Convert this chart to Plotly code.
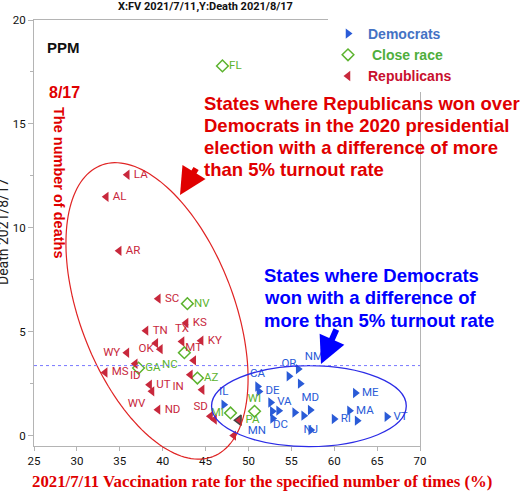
import numpy as np
import plotly.graph_objects as go

# ---- data ----
dem_labels = ["NM", "OR", "", "CA", "DE", "IL", "VA", "", "", "MN", "DC", "", "MD", "NJ", "RI", "ME", "MA", "", "VT"]
dem_vacc = [55.8, 54.72, 56.03, 51.06, 51.22, 47.12, 52.58, 52.78, 53.52, 52.82, 55.39, 56.44, 57.2, 57.26,
            59.98, 62.46, 61.78, 62.67, 66.14]
dem_death = [3.2, 2.86, 2.5, 2.36, 2.12, 1.49, 1.59, 1.17, 1.2, 0.82, 1.11, 0.96, 1.23, 0.27,
             0.8, 2.05, 1.2, 0.72, 0.91]

close_labels = ["FL", "NV", "NC", "GA", "AZ", "MI", "WI", "PA"]
close_vacc = [46.97, 42.88, 42.53, 37.19, 44.05, 47.91, 50.71, 48.88]
close_death = [17.79, 6.35, 3.99, 3.25, 2.77, 1.09, 1.17, 0.74]

rep_labels = ["LA", "AL", "AR", "SC", "KS", "TN", "TX", "KY", "", "OK", "WY", "MT", "ID", "MS",
              "IN", "UT", "WV", "", "ND", "", "SD", ""]
rep_vacc = [35.87, 33.42, 34.93, 39.49, 42.73, 38.06, 42.26, 44.48, 39.2, 39.73, 35.83, 43.62, 36.8, 33.3,
            43.23, 38.48, 38.76, 44.6, 39.46, 45.57, 46.04, 48.29]
rep_death = [12.55, 11.49, 8.89, 6.59, 5.42, 5.05, 4.53, 4.57, 4.45, 4.16, 3.99, 3.62, 3.46, 3.04,
             2.93, 2.45, 2.13, 2.21, 1.25, 0.93, 0.77, 0.0]

us_avg_death = 3.37

# ---- styling ----
BLUE = "#2a5bd7"
GREEN = "#5cb32e"
RED = "#c8283c"
SANS = "Liberation Sans, Arial, sans-serif"
NARROW = "Liberation Sans Narrow, Arial Narrow, Roboto, sans-serif"
SERIF = "Liberation Serif, Times New Roman, serif"

LABEL_POS = {
    "TX": "top center", "OK": "middle left", "WY": "middle left", "MT": "top center",
    "ID": "bottom center", "IN": "bottom left", "WV": "bottom left", "SD": "top left",
    "NC": "bottom left", "MI": "middle left", "WI": "top center",
    "OR": "top center", "NM": "top right", "CA": "top center", "IL": "top center",
    "MN": "bottom left", "DC": "bottom left", "MD": "top center", "NJ": "middle center",
}

W, H = 520, 496
L, R, T, B = 34, 100, 20, 50
X_RANGE = [25, 70]
Y_RANGE = [-0.5, 20]
PW, PH = W - L - R, H - T - B


def paper(px, py):
    """pixel position in the page -> paper coords"""
    return (px - L) / PW, (H - B - py) / PH


def data_to_paper(x, y):
    return ((np.asarray(x) - X_RANGE[0]) / (X_RANGE[1] - X_RANGE[0]),
            (np.asarray(y) - Y_RANGE[0]) / (Y_RANGE[1] - Y_RANGE[0]))


fig = go.Figure()

fig.add_trace(go.Scatter(
    x=dem_vacc, y=dem_death, mode="markers+text", name="<b><span style='color:#4472c4'>Democrats</span></b>",
    marker=dict(symbol="triangle-right", size=9, color=BLUE),
    text=dem_labels, textposition=[LABEL_POS.get(s, "middle right") for s in dem_labels],
    textfont=dict(family=NARROW, size=11.5, color=BLUE), cliponaxis=False,
))

close_symbols = ["diamond-open"] * (len(close_labels) - 1) + ["triangle-left"]
close_colors = [GREEN] * (len(close_labels) - 1) + [RED]
fig.add_trace(go.Scatter(
    x=close_vacc, y=close_death, mode="markers+text", name="<b><span style='color:#4fae3c'> Close race</span></b>",
    marker=dict(symbol=close_symbols, size=9, color=close_colors, line=dict(width=1.5)),
    text=close_labels, textposition=[LABEL_POS.get(s, "middle right") for s in close_labels],
    textfont=dict(family=NARROW, size=11.5, color=GREEN), cliponaxis=False,
))

fig.add_trace(go.Scatter(
    x=rep_vacc, y=rep_death, mode="markers+text", name="<b><span style='color:#c8102e'>Republicans</span></b>",
    marker=dict(symbol="triangle-left", size=9, color=RED),
    text=rep_labels, textposition=[LABEL_POS.get(s, "middle right") for s in rep_labels],
    textfont=dict(family=NARROW, size=11.5, color=RED), cliponaxis=False,
))

# ---- ellipses (drawn in paper space so they are not clipped) ----
sx, sy = PW / (X_RANGE[1] - X_RANGE[0]), PH / (Y_RANGE[1] - Y_RANGE[0])
t = np.linspace(0, 2 * np.pi, 160)
a, b, phi = 156, 77, np.radians(21)
cx, cy = 39.34, 6.0
dx = a * np.cos(t) * np.sin(phi) + b * np.sin(t) * np.cos(phi)
dy = a * np.cos(t) * np.cos(phi) - b * np.sin(t) * np.sin(phi)
ex, ey = data_to_paper(cx + dx / sx, cy - dy / sy)
red_path = "M " + " L ".join(f"{u:.4f},{v:.4f}" for u, v in zip(ex, ey)) + " Z"

bx0, by0 = data_to_paper(45.7, -0.53)
bx1, by1 = data_to_paper(68.4, 3.37)

shapes = [
    dict(type="path", path=red_path, xref="paper", yref="paper", line=dict(color="#e02424", width=1.2)),
    dict(type="circle", xref="paper", yref="paper", x0=bx0, x1=bx1, y0=by0, y1=by1,
         line=dict(color="#2b2be6", width=1.3)),
    dict(type="line", xref="paper", yref="y", x0=0, x1=1, y0=us_avg_death, y1=us_avg_death,
         line=dict(color="#7878ff", width=1, dash="dot")),
]

ann = []


def add_text(text, px, py, size, color, family=SANS, xanchor="left", angle=0):
    x, y = paper(px, py)
    ann.append(dict(text=text, x=x, y=y, xref="paper", yref="paper", xanchor=xanchor, yanchor="middle",
                    showarrow=False, textangle=angle, font=dict(family=family, size=size, color=color)))


add_text("<b>X:FV 2021/7/11,Y:Death 2021/8/17</b>", 205, 7, 11, "#111", NARROW, "center")
add_text("<b>PPM</b>", 45, 48, 15, "#111")
add_text("<b>8/17</b>", 47, 92, 16, "#e00000")
add_text("<b>The number of deaths</b>", 59, 182, 14.5, "#e00000", xanchor="center", angle=90)
add_text("Death 2021/8/17", 3, 232, 14, "#222", NARROW, "center", -90)

red_lines = ["States where Republicans won over", "Democrats in the 2020 presidential",
             "election with a difference of more", "than 5% turnout rate"]
for i, line in enumerate(red_lines):
    add_text(f"<b>{line}</b>", 202, 103 + 22.3 * i, 18.5, "#e00000")

blue_lines = ["States where Democrats", "won with a difference of", "more than 5% turnout rate"]
for i, line in enumerate(blue_lines):
    add_text(f"<b>{line}</b>", 262, 275 + 22.5 * i, 18.5, "#0000ff")

add_text("<b>2021/7/11 Vaccination rate for the specified number of times (%)</b>", 262, 482, 16.8,
         "#e00000", SERIF, "center")

# arrows
for (hx, hy, tx, ty, col) in [(180, 195, 197, 167, "#e00000"), (321, 364, 337, 328, "#0000ff")]:
    x, y = paper(hx, hy)
    ann.append(dict(text="", x=x, y=y, xref="paper", yref="paper", ax=tx - hx, ay=ty - hy,
                    showarrow=True, arrowhead=2, arrowsize=0.9, arrowwidth=6, arrowcolor=col, standoff=0))

lx, ly = paper(328, 18)
fig.update_layout(
    width=W, height=H,
    margin=dict(l=L, r=R, t=T, b=B),
    paper_bgcolor="white", plot_bgcolor="white",
    showlegend=True,
    legend=dict(x=lx, y=ly, xanchor="left", yanchor="top", bgcolor="rgba(255,255,255,1)",
                font=dict(family=SANS, size=14), itemsizing="trace", tracegroupgap=0),
    xaxis=dict(range=X_RANGE, tickvals=list(range(25, 71, 5)), showgrid=False, zeroline=False,
               showline=True, linecolor="#b4b4b4", linewidth=1, mirror=True,
               ticks="outside", ticklen=4, tickcolor="#b4b4b4",
               tickfont=dict(family=NARROW, size=11.5, color="#111")),
    yaxis=dict(range=Y_RANGE, tickvals=[0, 5, 10, 15, 20], showgrid=False, zeroline=False,
               showline=True, linecolor="#b4b4b4", linewidth=1, mirror=True,
               ticks="outside", ticklen=5, tickcolor="#b4b4b4",
               minor=dict(dtick=2.5, tick0=0, ticks="outside", ticklen=3, tickcolor="#b4b4b4"),
               tickfont=dict(family=NARROW, size=11.5, color="#111")),
    shapes=shapes,
    annotations=ann,
)

# the page body has a default 8px margin; drop it so the figure sits at the window's corner
fig.write_html("out.html", config={"displayModeBar": False},
               post_script="document.body.style.margin='0';")
